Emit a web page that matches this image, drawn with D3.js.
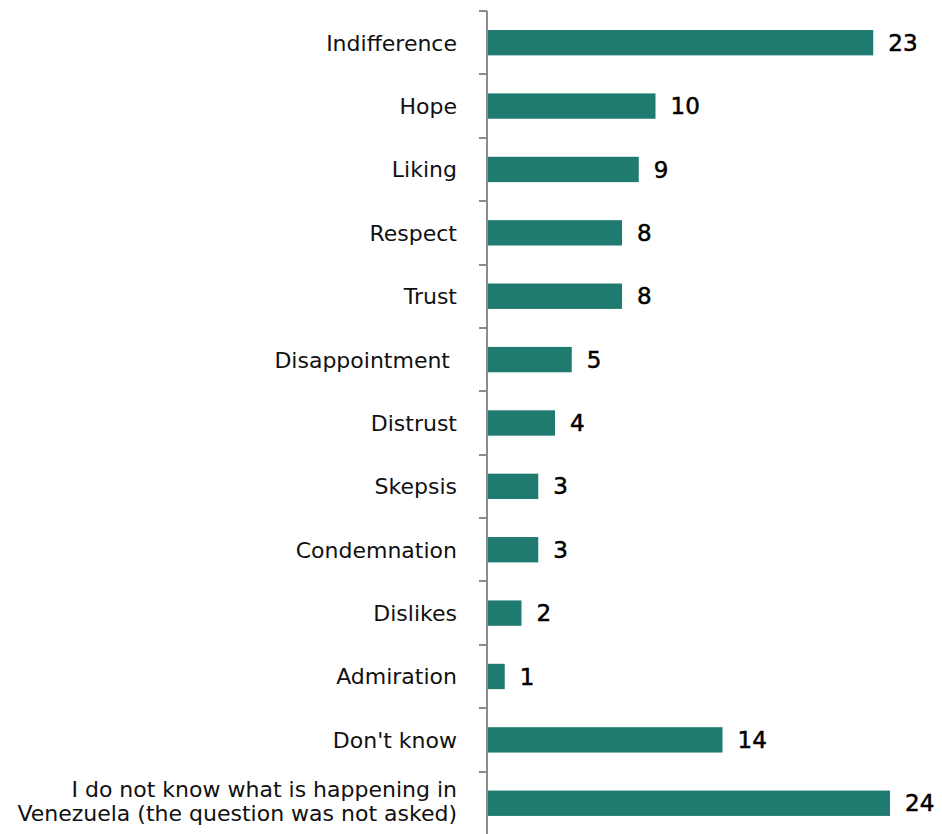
<!DOCTYPE html>
<html>
<head>
<meta charset="utf-8">
<script src="https://cdn.jsdelivr.net/npm/d3@7"></script>
<style>
  html, body { margin: 0; padding: 0; background: #fff; }
  svg { display: block; }
</style>
</head>
<body>
<svg id="chart" width="942" height="834"></svg>
<script>
const categories = [
  "Indifference", "Hope", "Liking", "Respect", "Trust", "Disappointment ",
  "Distrust", "Skepsis", "Condemnation", "Dislikes", "Admiration", "Don't know",
  "I do not know what is happening in\nVenezuela (the question was not asked)"
];
const values = [23, 10, 9, 8, 8, 5, 4, 3, 3, 2, 1, 14, 24];

(function () {
const svg = d3.select("#chart");
const axisX = 487;
const y0 = 11, step = 63.38;

const y = d3.scaleBand()
  .domain(categories)
  .range([y0, y0 + step * categories.length])
  .paddingInner(0.6)
  .paddingOuter(0.3);

const x = d3.scaleLinear().domain([0, 24]).range([axisX + 1, 890]);

const data = categories.map((c, i) => ({ cat: c, val: values[i] }));

// bars
svg.append("g").selectAll("rect").data(data).join("rect")
  .attr("x", x(0))
  .attr("y", d => y(d.cat))
  .attr("width", d => x(d.val) - x(0))
  .attr("height", y.bandwidth())
  .attr("fill", "#1f7a70");

// axis line and boundary ticks
const gap = (y.step() - y.bandwidth()) / 2;
const bounds = categories.map(c => y(c) - gap);
bounds.push(y(categories[categories.length - 1]) + y.bandwidth() + gap);
const axisG = svg.append("g").attr("stroke", "#8c8c8c").attr("stroke-width", 2);
axisG.append("line")
  .attr("x1", axisX).attr("x2", axisX)
  .attr("y1", bounds[0]).attr("y2", bounds[bounds.length - 1]);
axisG.selectAll("line.tick").data(bounds).join("line")
  .attr("class", "tick")
  .attr("x1", axisX - 8).attr("x2", axisX)
  .attr("y1", d => Math.round(d)).attr("y2", d => Math.round(d));

// category labels
const labG = svg.append("g")
  .attr("font-family", "'DejaVu Sans', sans-serif")
  .attr("font-size", 22)
  .attr("fill", "#111")
  .attr("text-anchor", "end");
data.forEach(d => {
  const lines = d.cat.split("\n");
  const cy = y(d.cat) + y.bandwidth() / 2;
  const t = labG.append("text")
    .attr("x", 457)
    .style("white-space", "pre");
  if (lines.length === 1) {
    t.attr("y", cy).attr("dy", "0.36em").text(lines[0]);
  } else {
    lines.forEach((ln, i) => {
      t.append("tspan")
        .attr("x", 457)
        .attr("y", cy - 2.5 + (i - (lines.length - 1) / 2) * 24)
        .attr("dy", "0.36em")
        .text(ln);
    });
  }
});

// value labels
svg.append("g")
  .attr("font-family", "'DejaVu Sans', sans-serif")
  .attr("font-size", 23)
  .attr("fill", "#000")
  .selectAll("text").data(data).join("text")
  .attr("x", d => x(d.val) + 15)
  .attr("y", d => y(d.cat) + y.bandwidth() / 2)
  .attr("dy", "0.35em")
  .attr("stroke", "#000")
  .attr("stroke-width", 0.5)
  .text(d => d.val);
})();
</script>
</body>
</html>
